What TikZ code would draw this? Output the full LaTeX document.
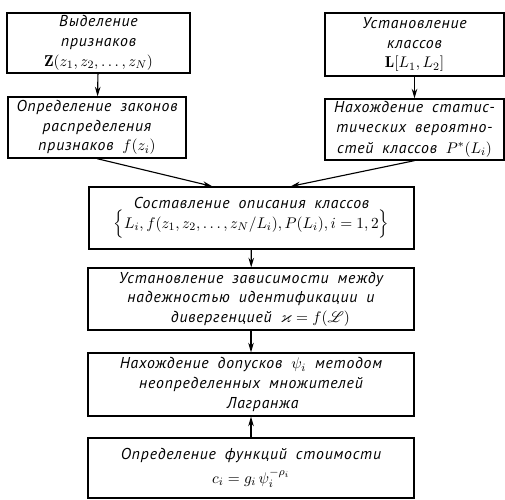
\documentclass[tikz,border=0pt]{standalone}
\usepackage{amsmath,amssymb}
\usepackage{mathrsfs}
\usepackage{fontspec}
\newfontfamily\blkfont{PT Sans}[LetterSpace=5,WordSpace=1.8]
\usetikzlibrary{arrows.meta,calc}
\tikzset{
  blk/.style={
    draw, line width=0.9pt, align=center, inner sep=1pt,
    font=\blkfont\itshape\fontsize{11.2}{14}\selectfont
  },
  arr/.style={-{Stealth[length=2.4mm,width=1.4mm]}, line width=0.8pt}
}

\begin{document}
\begin{tikzpicture}[x=0.025cm,y=-0.025cm]
  \useasboundingbox (0,0) rectangle (505,499);
  % two source branches
  \node[blk,minimum width=4.575cm,minimum height=1.5cm] (feat) at (98.5,43)
    {Выделение\\признаков\\$\mathbf{Z}(z_1,z_2,\ldots,z_N)$};
  \node[blk,minimum width=4.45cm,minimum height=1.525cm] (law) at (97,127.5)
    {Определение законов\\распределения\\признаков $f(z_i)$};
  \node[blk,minimum width=4.475cm,minimum height=1.575cm] (cls) at (414.5,44.5)
    {Установление\\классов\\$\mathbf{L}[L_1,L_2]$};
  \node[blk,minimum width=4.475cm,minimum height=1.525cm] (prob) at (414.5,129.5)
    {Нахождение статис-\\тических вероятно-\\[1pt]стей классов $P^*(L_i)$};
  % main column
  \node[blk,minimum width=8.125cm,minimum height=1.55cm] (descr) at (251.5,218)
    {Составление описания классов\\$\Big\{L_i,f(z_1,z_2,\ldots,z_N/L_i),P(L_i),i=1,2\Big\}$};
  \node[blk,minimum width=8.15cm,minimum height=1.55cm] (dep) at (251,299)
    {Установление зависимости между\\надежностью идентификации и\\\hspace*{1.2em}дивергенцией $\varkappa=f(\mathscr{L})$};
  \node[blk,minimum width=8.15cm,minimum height=1.575cm] (tol) at (251,384.5)
    {Нахождение допусков $\psi_i$ методом\\неопределенных множителей\\\hspace*{1.5em}Лагранжа};
  \node[blk,minimum width=8.15cm,minimum height=1.5cm] (cost) at (251,468)
    {Определение функций стоимости\\[3pt]$c_i=g_i\,\psi_i^{-\rho_i}$};

  \coordinate (inL) at ($(descr.north west)!0.38!(descr.north east)$);
  \coordinate (inR) at ($(descr.north west)!0.62!(descr.north east)$);

  \draw[arr] (feat) -- (law);
  \draw[arr] (cls) -- (prob);
  \draw[arr] (law.south) -- (inL);
  \draw[arr] (prob.south) -- (inR);
  \draw[arr] (descr) -- (dep);
  \draw[arr] (dep) -- (tol);
  \draw[arr] (cost) -- (tol);
\end{tikzpicture}
\end{document}
